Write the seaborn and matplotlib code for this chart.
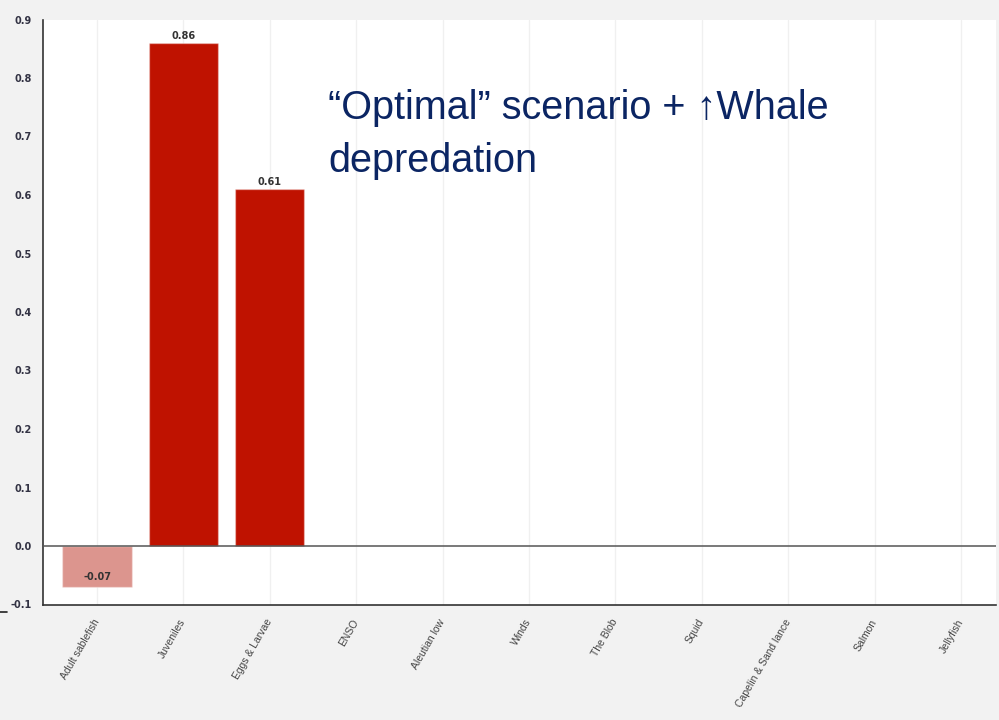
import matplotlib
matplotlib.use("Agg")
import matplotlib.pyplot as plt
from matplotlib import font_manager
from matplotlib.lines import Line2D
import seaborn as sns
import pandas as pd

categories = ["Adult sablefish", "Juveniles", "Eggs & Larvae", "ENSO", "Aleutian low",
              "Winds", "The Blob", "Squid", "Capelin & Sand lance", "Salmon", "Jellyfish"]
values = [-0.07, 0.86, 0.61, 0, 0, 0, 0, 0, 0, 0, 0]
bar_colors = ["#dc958e", "#bf1200", "#bf1200", "#bf1200", "#bf1200", "#bf1200",
              "#bf1200", "#bf1200", "#bf1200", "#bf1200", "#bf1200"]
yticks = [-0.1, 0.0, 0.1, 0.2, 0.3, 0.4, 0.5, 0.6, 0.7, 0.8, 0.9]
title_lines = ["\u201cOptimal\u201d scenario + \u2191Whale", "depredation"]

sns.set_style("white")
names = {f.name for f in font_manager.fontManager.ttflist}
base = "Liberation Sans" if "Liberation Sans" in names else "DejaVu Sans"
plt.rcParams["font.family"] = [base, "DejaVu Sans"]
num_font = ["DejaVu Sans"]

W, H = 999, 720
fig = plt.figure(figsize=(W / 100, H / 100), dpi=100, facecolor="#f2f2f2")
ax = fig.add_axes([43 / W, 1 - 604.5 / H, (996 - 43) / W, (604.5 - 19.5) / H])
ax.set_facecolor("white")

df = pd.DataFrame({"cat": categories, "val": values})
sns.barplot(data=df, x="cat", y="val", hue="cat", palette=bar_colors, legend=False,
            width=0.8, ax=ax, edgecolor=(1, 1, 1, 0.35), linewidth=1, saturation=1, zorder=2)

ax.set_xlim(-0.625, 10.405)
ax.set_ylim(-0.1, 0.9)
ax.set_yticks(yticks)
ax.set_yticklabels([f"{t:.1f}" for t in yticks], fontsize=7, fontweight="bold",
                   color="#333344", family=num_font)
ax.set_xticks(range(len(categories)))
ax.set_xticklabels(categories, rotation=60, ha="right", va="center",
                   rotation_mode="anchor", fontsize=7.5, color="#444444")
ax.tick_params(axis="x", length=5, width=1.2, color="#333333", pad=6)
ax.tick_params(axis="y", length=5, width=1.2, color="#222222", pad=3)
ax.set_xlabel("")
ax.set_ylabel("")

for x in range(len(categories)):
    ax.axvline(x, color="#f0f0f0", lw=1, zorder=0)
ax.axhline(0, color="#555555", lw=1.1, zorder=3)

for s in ["top", "right"]:
    ax.spines[s].set_visible(False)
for s in ["left", "bottom"]:
    ax.spines[s].set_color("#333333")
    ax.spines[s].set_linewidth(1.2)

for i, v in enumerate(values):
    if v == 0:
        continue
    off = 1.5 if v > 0 else 3.5
    ax.annotate(f"{v:.2f}", (i, v), xytext=(0, off), textcoords="offset points",
                ha="center", va="bottom", fontsize=7, fontweight="bold",
                color="#333333", family=num_font)

for line, base_y in zip(title_lines, [119, 172]):
    fig.text(328 / W, 1 - base_y / H, line, fontsize=28.5, color="#0b2563",
             va="baseline", ha="left")

fig.add_artist(Line2D([0, 7 / W], [1 - 612 / H, 1 - 612 / H], color="#222222", lw=1.2,
                      transform=fig.transFigure))

fig.savefig("out.png", dpi=100, facecolor=fig.get_facecolor())
